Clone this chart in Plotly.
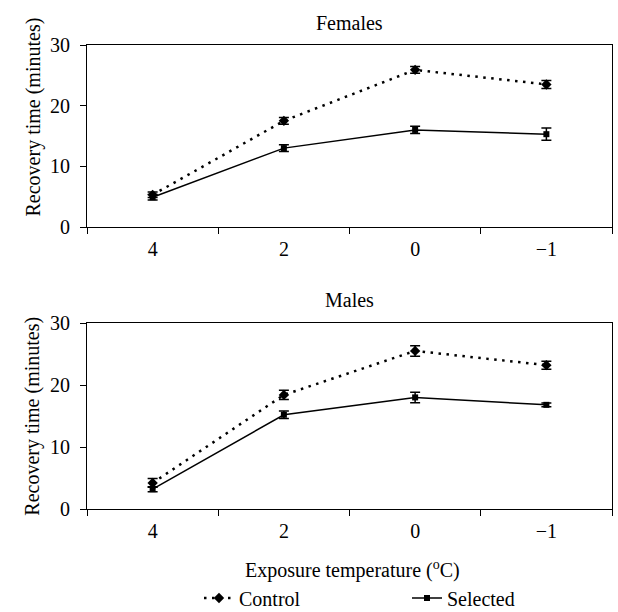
import plotly.graph_objects as go

# ---- data ----
temps = ["4", "2", "0", "\u22121"]

fem_control = [5.3, 17.5, 25.9, 23.5]
fem_control_err = [0.45, 0.55, 0.55, 0.65]
fem_selected = [4.9, 13.0, 16.0, 15.3]
fem_selected_err = [0.45, 0.55, 0.6, 1.0]

male_control = [4.2, 18.4, 25.5, 23.2]
male_control_err = [0.7, 0.75, 0.85, 0.65]
male_selected = [3.2, 15.2, 18.0, 16.8]
male_selected_err = [0.4, 0.6, 0.85, 0.3]

FONT = "Liberation Serif"
H = 612
W_PLOT = 525

fig = go.Figure()

def add_pair(ctrl, ctrl_e, sel, sel_e, xa, ya, show):
    fig.add_trace(go.Scatter(
        x=temps, y=ctrl, xaxis=xa, yaxis=ya, name="Control",
        mode="lines+markers", showlegend=show, legend="legend",
        line=dict(color="black", width=2.5, dash="2.5px,5.5px"),
        marker=dict(symbol="diamond", size=8, color="black"),
        error_y=dict(type="data", array=ctrl_e, color="black", thickness=1.5, width=5),
    ))
    fig.add_trace(go.Scatter(
        x=temps, y=sel, xaxis=xa, yaxis=ya, name="Selected",
        mode="lines+markers", showlegend=show, legend="legend2",
        line=dict(color="black", width=1.5),
        marker=dict(symbol="square", size=6, color="black"),
        error_y=dict(type="data", array=sel_e, color="black", thickness=1.5, width=5),
    ))

add_pair(fem_control, fem_control_err, fem_selected, fem_selected_err, "x", "y", True)
add_pair(male_control, male_control_err, male_selected, male_selected_err, "x2", "y2", False)

xcommon = dict(
    type="category", categoryorder="array", categoryarray=temps,
    range=[-0.5, 3.5], tickson="boundaries", ticks="outside", ticklen=6,
    tickwidth=1, tickcolor="black", showline=True, linecolor="black",
    linewidth=1.2, mirror=True, showgrid=False, zeroline=False,
    tickfont=dict(family=FONT, size=20, color="black"), ticklabelstandoff=4,
)
ycommon = dict(
    range=[0, 30], tickvals=[0, 10, 20, 30], ticks="outside", ticklen=6,
    tickwidth=1, tickcolor="black", showline=True, linecolor="black",
    linewidth=1.2, mirror=True, showgrid=False, zeroline=False,
    tickfont=dict(family=FONT, size=20, color="black"), ticklabelstandoff=6,
)

legcommon = dict(
    orientation="h", xanchor="left", y=1 - 598 / H, yanchor="middle",
    font=dict(family=FONT, size=20, color="black"),
    bgcolor="rgba(0,0,0,0)", borderwidth=0,
)

fig.update_layout(
    width=618, height=612,
    margin=dict(l=87, r=6, t=0, b=0, autoexpand=False),
    paper_bgcolor="white", plot_bgcolor="white",
    font=dict(family=FONT, size=20, color="black"),
    xaxis=dict(**xcommon, domain=[0, 1], anchor="y"),
    yaxis=dict(**ycommon, domain=[1 - 227 / H, 1 - 45 / H], anchor="x"),
    xaxis2=dict(**xcommon, domain=[0, 1], anchor="y2"),
    yaxis2=dict(**ycommon, domain=[1 - 509 / H, 1 - 323 / H], anchor="x2"),
    showlegend=True,
    legend=dict(**legcommon, x=(199 - 87) / W_PLOT),
    legend2=dict(**legcommon, x=(407 - 87) / W_PLOT),
)

ann = [
    dict(text="Females", x=0.5, y=1 - 23 / H, xanchor="center", yanchor="middle"),
    dict(text="Males", x=0.5, y=1 - 300 / H, xanchor="center", yanchor="middle"),
    dict(text="Exposure temperature (<sup>o</sup>C)", x=0.505, y=1 - 569 / H,
         xanchor="center", yanchor="middle"),
    dict(text="Recovery time (minutes)", x=0, xshift=-54, y=1 - 117.5 / H,
         textangle=-90, xanchor="center", yanchor="middle"),
    dict(text="Recovery time (minutes)", x=0, xshift=-54, y=1 - 416.7 / H,
         textangle=-90, xanchor="center", yanchor="middle"),
]
for a in ann:
    fig.add_annotation(xref="paper", yref="paper", showarrow=False,
                       font=dict(family=FONT, size=20, color="black"), **a)

fig.write_html("out.html")
